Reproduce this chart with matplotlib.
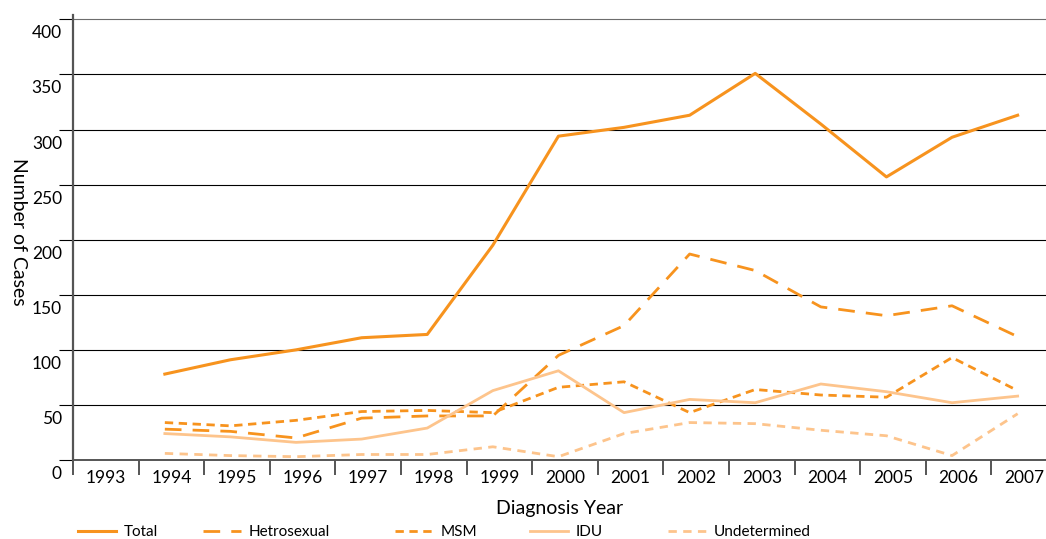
import matplotlib
matplotlib.use('Agg')
import matplotlib.pyplot as plt
from matplotlib.transforms import ScaledTranslation
import numpy as np

plt.rcParams['font.family'] = ['Lato', 'DejaVu Sans']

years = [1993, 1994, 1995, 1996, 1997, 1998, 1999, 2000, 2001, 2002, 2003, 2004, 2005, 2006, 2007]
data_years = years[1:]

total = [78, 91, 100, 111, 114, 195, 294, 302, 313, 351, 305, 257, 293, 313]
hetro = [28, 26, 20, 38, 40, 40, 95, 122, 187, 172, 139, 131, 140, 112]
msm = [34, 31, 36, 44, 45, 43, 66, 71, 43, 64, 59, 57, 93, 63]
idu = [24, 21, 16, 19, 29, 63, 81, 43, 55, 52, 69, 62, 52, 58]
undet = [6, 4, 3, 5, 5, 12, 3, 24, 34, 33, 27, 22, 4, 42]

y_ticks = [0, 50, 100, 150, 200, 250, 300, 350, 400]

dark = '#F7931E'
light = '#FDC48C'

fig = plt.figure(figsize=(10.46, 5.39), dpi=100)
ax = fig.add_axes([73 / 1046, 79 / 539, 1 - 73 / 1046, 445 / 539])

# category slots: year i sits in slot [i, i+1]
xpos = np.array([years.index(y) for y in data_years]) + 0.4

ax.plot(xpos, total, color=dark, lw=2.2, label='Total')
ax.plot(xpos, hetro, color=dark, lw=2.0, dashes=(6, 4), label='Hetrosexual')
ax.plot(xpos, msm, color=dark, lw=2.0, dashes=(3, 2), label='MSM')
ax.plot(xpos, idu, color=light, lw=2.0, label='IDU')
ax.plot(xpos, undet, color=light, lw=2.0, dashes=(3, 2.3), label='Undetermined')

ax.set_xlim(0, (1046 - 73) / 65.6)
ax.set_ylim(0, 404)

for s in ['top', 'right']:
    ax.spines[s].set_visible(False)
ax.spines['left'].set_color('#555555')
ax.spines['left'].set_linewidth(1.6)
ax.spines['bottom'].set_color('#555555')
ax.spines['bottom'].set_linewidth(1.4)

# horizontal grid
ax.set_yticks(y_ticks)
ax.set_yticklabels([])
ax.tick_params(axis='y', length=10, width=0.8, color='black', direction='out')
for v in y_ticks[1:]:
    ax.axhline(v, color='#6d6d6d' if v == 400 else 'black', lw=0.8, zorder=0)

off = ScaledTranslation(-0.11, -0.14, fig.dpi_scale_trans)
for v in y_ticks:
    ax.text(0, v, str(v), transform=ax.get_yaxis_transform() + off,
            ha='right', va='center', fontsize=12.5, color='black')

# x ticks: separators at slot boundaries, labels centered
ax.set_xticks(np.arange(0, len(years)), minor=True)
ax.set_xticks(np.arange(len(years)) + 0.5)
ax.set_xticklabels([str(y) for y in years], fontsize=12.5)
ax.tick_params(axis='x', which='major', length=0, pad=7)
ax.tick_params(axis='x', which='minor', length=11, width=1.4, color='#555555')

ax.set_xlabel('Diagnosis Year', fontsize=14, labelpad=10)
fig.text(18 / 1046, 1 - 232 / 539, 'Number of Cases', rotation=270,
         ha='center', va='center', fontsize=14)

handles = ax.get_lines()
legend_x = [78, 203, 395, 530, 668]
for h, lx in zip(handles, legend_x):
    fig.legend(handles=[h], loc='center left', bbox_to_anchor=(lx / 1046, 7 / 539),
               frameon=False, fontsize=11, handlelength=2.5, handletextpad=0.5,
               borderpad=0, borderaxespad=0)

fig.savefig('out.png', dpi=100)
